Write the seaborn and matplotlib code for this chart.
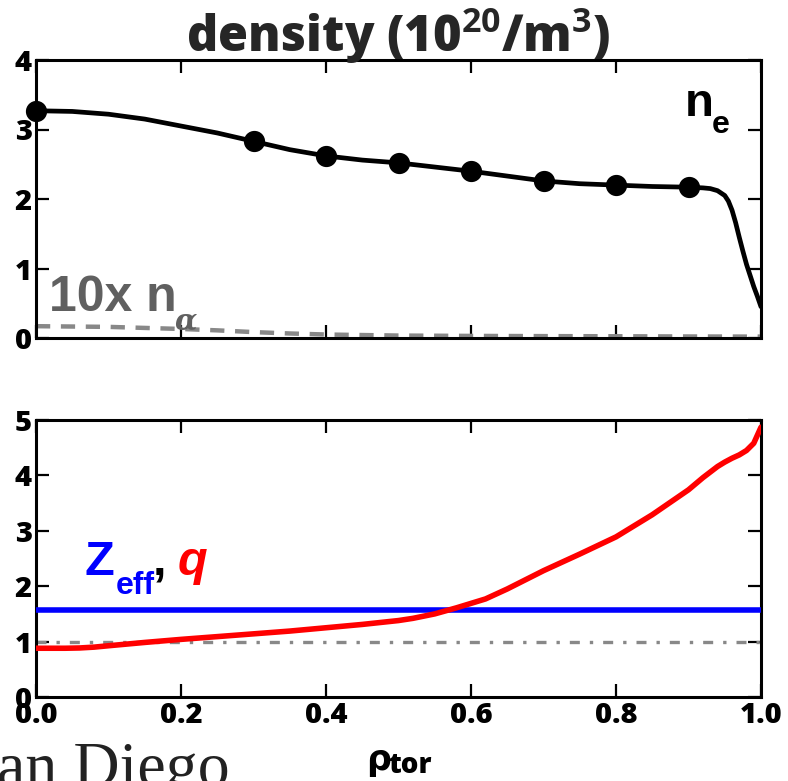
import numpy as np
import pandas as pd
import matplotlib
matplotlib.use("Agg")
import matplotlib.pyplot as plt
import seaborn as sns

# ---------------- data ----------------
rho_ne = [0.0, 0.05, 0.1, 0.15, 0.2, 0.25, 0.3, 0.35, 0.4, 0.45, 0.5, 0.55, 0.6, 0.65,
          0.7, 0.75, 0.8, 0.85, 0.9, 0.92, 0.93, 0.94, 0.95, 0.955, 0.96, 0.965, 0.97,
          0.975, 0.98, 0.985, 0.99, 0.995, 1.0]
ne = [3.27, 3.26, 3.22, 3.15, 3.05, 2.95, 2.83, 2.71, 2.62, 2.56, 2.52, 2.46, 2.40, 2.33,
      2.26, 2.22, 2.20, 2.18, 2.17, 2.16, 2.15, 2.12, 2.05, 1.97, 1.84, 1.66, 1.45,
      1.25, 1.06, 0.90, 0.74, 0.60, 0.45]
rho_meas = [0.0, 0.3, 0.4, 0.5, 0.6, 0.7, 0.8, 0.9]
ne_meas = [3.27, 2.83, 2.62, 2.52, 2.40, 2.26, 2.20, 2.17]

rho_na = [0.0, 0.1, 0.2, 0.25, 0.3, 0.35, 0.4, 0.5, 0.6, 0.7, 0.8, 0.9, 1.0]
na10 = [0.17, 0.16, 0.13, 0.11, 0.085, 0.065, 0.05, 0.035, 0.03, 0.027, 0.025, 0.022, 0.02]

rho_q = [0.0, 0.04, 0.06, 0.08, 0.1, 0.15, 0.2, 0.25, 0.3, 0.35, 0.4, 0.45, 0.5, 0.52,
         0.55, 0.58, 0.6, 0.62, 0.65, 0.7, 0.75, 0.8, 0.85, 0.9, 0.92, 0.94, 0.95, 0.96,
         0.97, 0.98, 0.99, 1.0]
q = [0.88, 0.88, 0.885, 0.90, 0.925, 0.985, 1.04, 1.09, 1.14, 1.19, 1.25, 1.31, 1.38, 1.42,
     1.50, 1.61, 1.69, 1.77, 1.95, 2.28, 2.58, 2.89, 3.29, 3.74, 3.96, 4.16, 4.24, 4.31,
     4.37, 4.45, 4.58, 4.87]
zeff = 1.57
q_ref = 1.0

x_ticks = [0.0, 0.2, 0.4, 0.6, 0.8, 1.0]
y_ticks_top = [0, 1, 2, 3, 4]
y_ticks_bot = [0, 1, 2, 3, 4, 5]

# ---------------- style ----------------
sns.set_style("ticks")
plt.rcParams["font.family"] = ["Open Sans", "DejaVu Sans"]
plt.rcParams["font.weight"] = "bold"
plt.rcParams["mathtext.fontset"] = "custom"
plt.rcParams["mathtext.rm"] = "Open Sans:bold"
plt.rcParams["mathtext.bf"] = "Open Sans:bold"
plt.rcParams["mathtext.default"] = "bf"

W, H = 788, 781
fig = plt.figure(figsize=(W / 100, H / 100), dpi=100)

def px(x, y):
    return x / W, 1 - y / H

ax1 = fig.add_axes([36 / W, 1 - 338 / H, 725 / W, 278 / H])
ax2 = fig.add_axes([36 / W, 1 - 697 / H, 725 / W, 277 / H])

df_ne = pd.DataFrame({"rho": rho_ne, "ne": ne})
df_meas = pd.DataFrame({"rho": rho_meas, "ne": ne_meas})
df_na = pd.DataFrame({"rho": rho_na, "na": na10})
df_q = pd.DataFrame({"rho": rho_q, "q": q})

sns.lineplot(data=df_na, x="rho", y="na", ax=ax1, color="#888888", lw=3.2,
             linestyle=(0, (3.2, 2.4)), zorder=2)
sns.lineplot(data=df_ne, x="rho", y="ne", ax=ax1, color="black", lw=3.4, zorder=3)
sns.scatterplot(data=df_meas, x="rho", y="ne", ax=ax1, color="black", s=200,
                edgecolor="black", zorder=4, clip_on=False)

ax2.axhline(q_ref, color="#888888", lw=2.4, linestyle=(0, (3, 3, 1, 3)), zorder=2)
ax2.axhline(zeff, color="#0000ff", lw=4, zorder=3)
sns.lineplot(data=df_q, x="rho", y="q", ax=ax2, color="#ff0000", lw=4, zorder=4)

for ax, yt in ((ax1, y_ticks_top), (ax2, y_ticks_bot)):
    ax.set_xlim(0, 1)
    ax.set_ylim(yt[0], yt[-1])
    ax.set_xticks(x_ticks)
    ax.set_yticks(yt)
    ax.set_xlabel("")
    ax.set_ylabel("")
    for s in ax.spines.values():
        s.set_linewidth(2.2)
        s.set_color("black")
        s.set_visible(True)
    ax.tick_params(direction="in", length=9.5, width=1.6, top=True, right=True,
                   labelsize=21, pad=3, colors="black")
    ax.set_yticklabels([str(v) for v in yt], fontweight="heavy")

ax1.tick_params(labelbottom=False)
ax2.set_xticklabels([f"{v:.1f}" for v in x_ticks], fontweight="heavy")

# title
ax1.text(0.5, 1 + 8 / 278, r"density (10$^{20}$/m$^{3}$)", transform=ax1.transAxes,
         ha="center", va="baseline", fontsize=35, fontweight="heavy")

# annotations
lab = dict(family="Liberation Sans", weight="bold")
fig.text(*px(685, 116), "n", fontsize=34, color="black", va="baseline", **lab)
fig.text(*px(712, 133), "e", fontsize=23, color="black", va="baseline", **lab)

fig.text(*px(49, 311), "10x n", fontsize=36, color="#606060", va="baseline", **lab)
fig.text(*px(175, 329), "α", fontsize=21, color="#606060", va="baseline",
         family="DejaVu Serif", style="italic", weight="bold")

fig.text(*px(84, 575), "Z", fontsize=35, color="#0000ff", va="baseline", **lab)
fig.text(*px(116, 594), "eff", fontsize=23, color="#0000ff", va="baseline", **lab)
fig.text(*px(153, 575), ",", fontsize=35, color="black", va="baseline", **lab)
fig.text(*px(178, 575), "q", fontsize=35, color="#ff0000", va="baseline",
         family="Liberation Sans", weight="bold", style="italic")

# x label
fig.text(*px(366, 770), "ρ", fontsize=25, color="black", va="baseline",
         family="DejaVu Sans", weight="bold")
fig.text(*px(388, 773), "tor", fontsize=20, color="black", va="baseline",
         family="Open Sans", weight="heavy")

# leftover logo text
fig.text(*px(-3, 786), "an Diego", fontsize=46, color="#222222", va="baseline",
         family="Liberation Serif", weight="normal")

fig.savefig("out.png", dpi=100)
